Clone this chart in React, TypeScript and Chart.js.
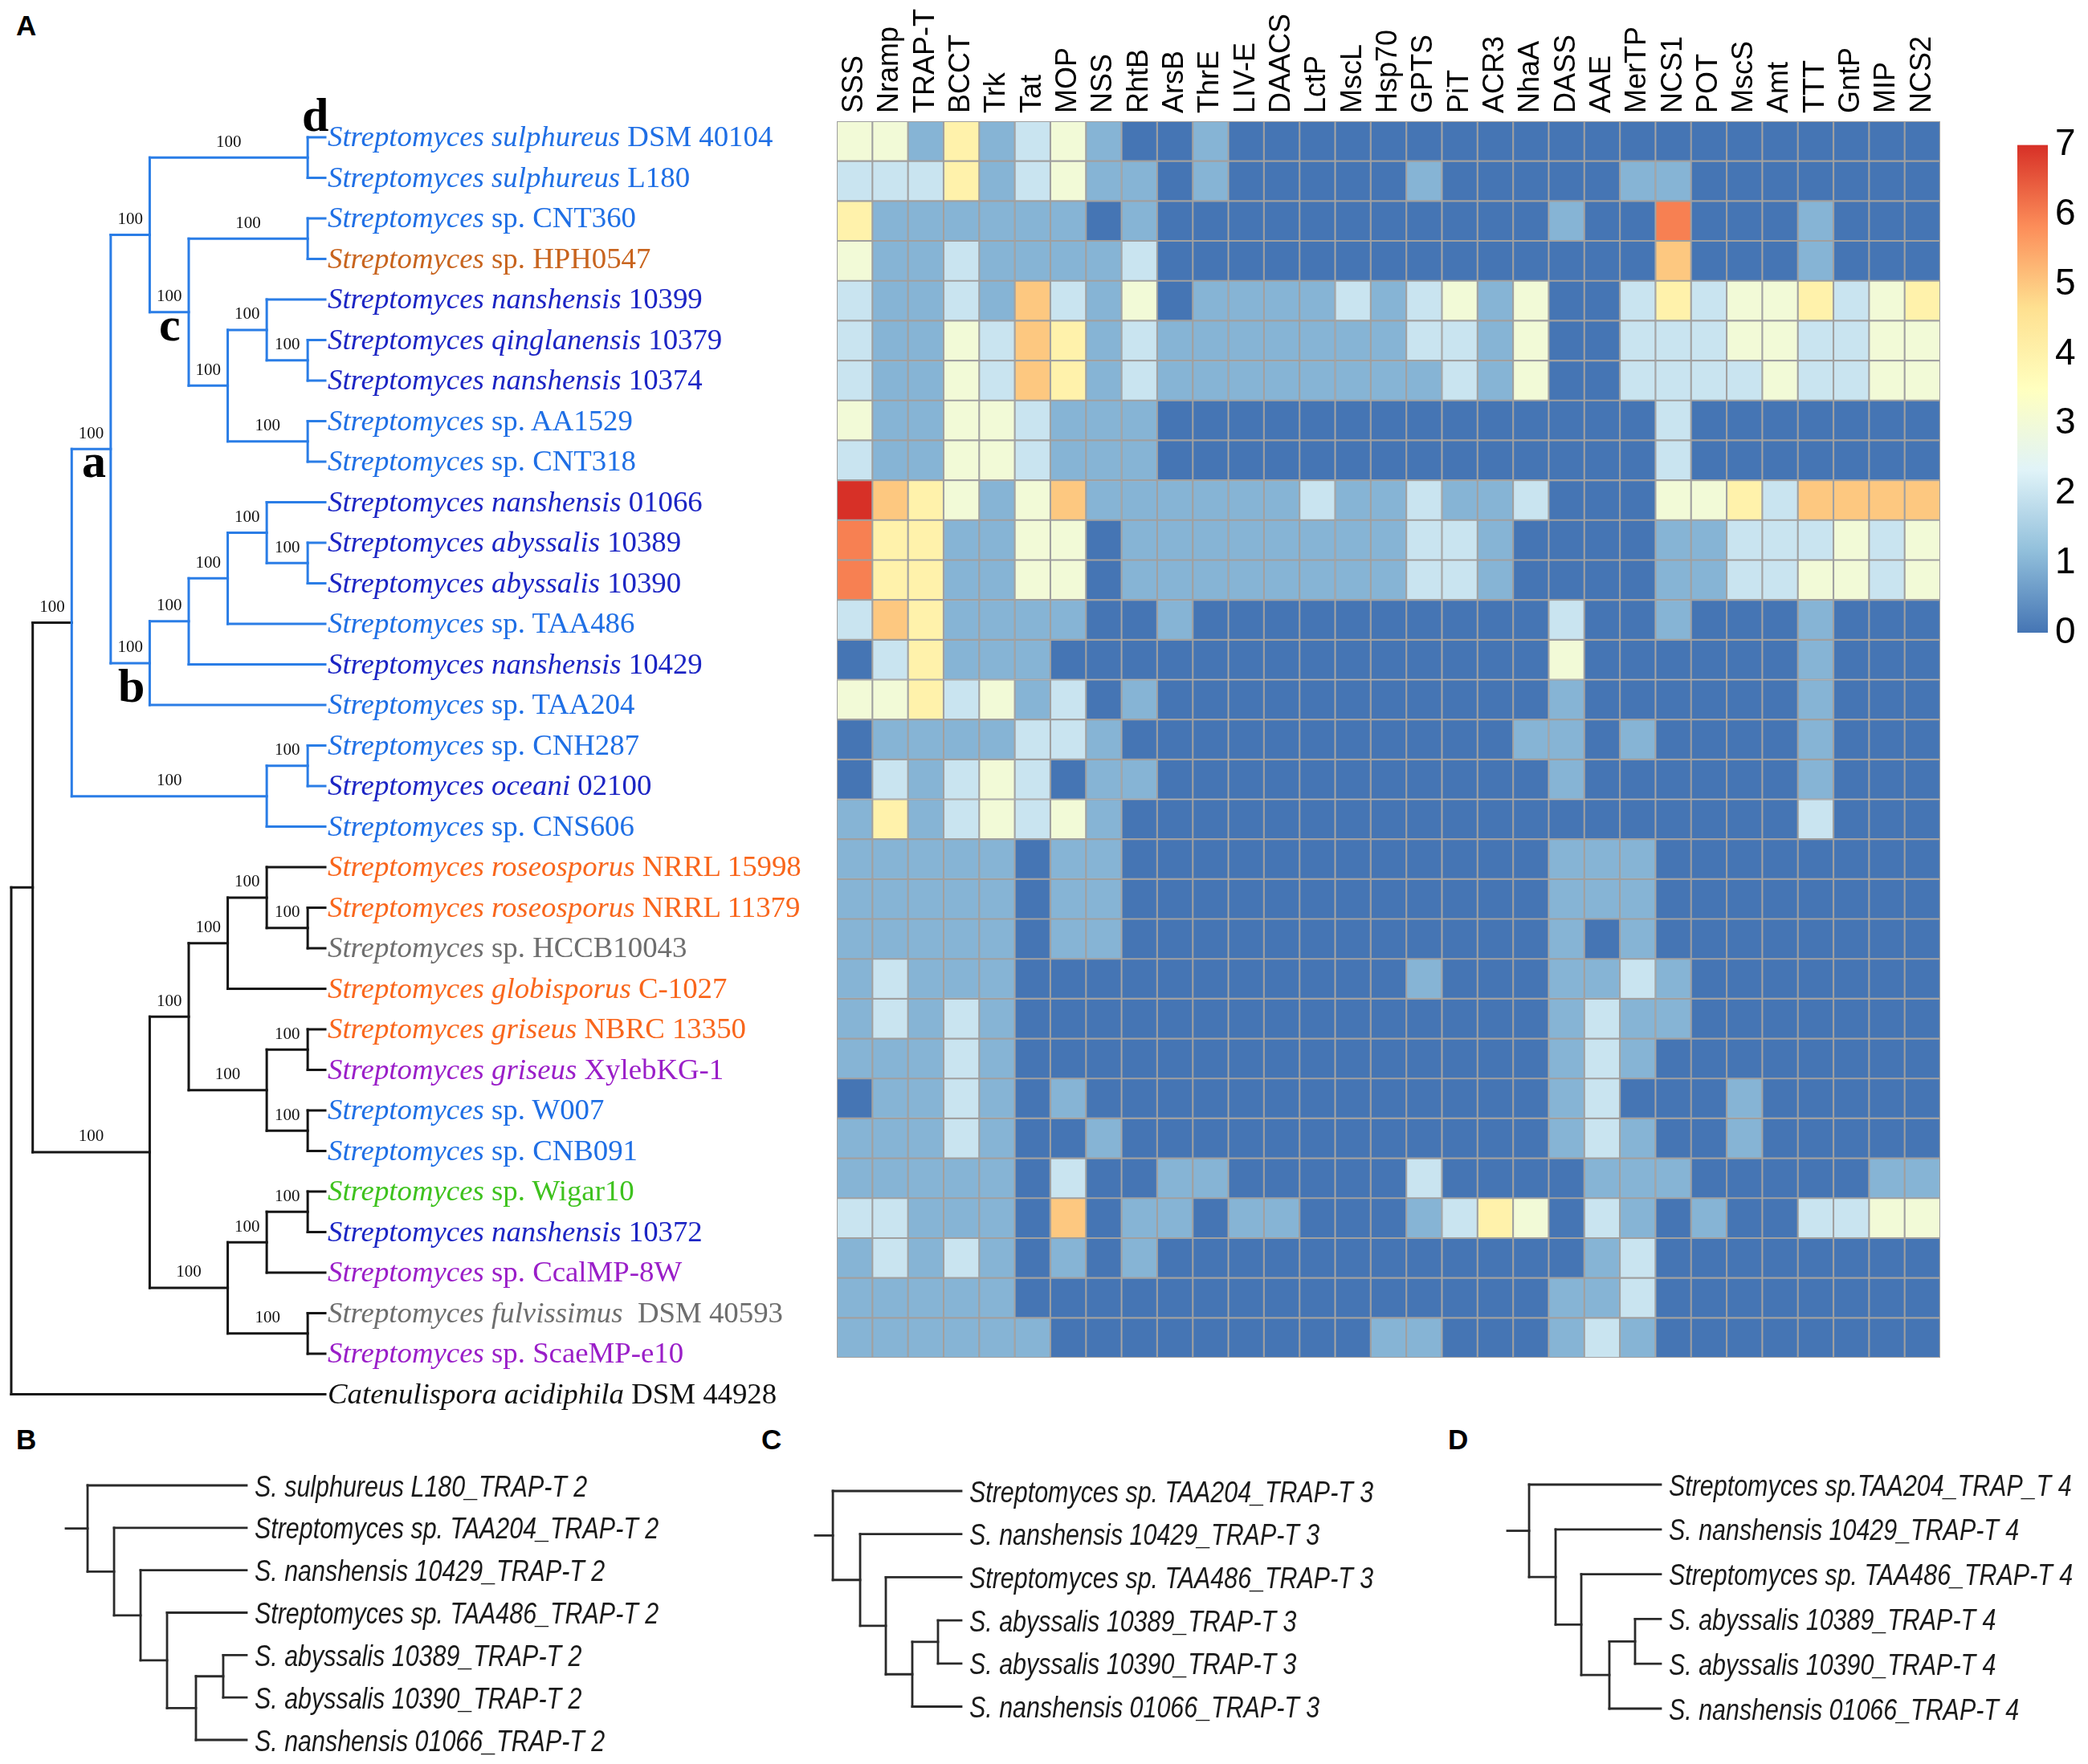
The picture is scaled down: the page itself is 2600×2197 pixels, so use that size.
import React, { useEffect, useRef } from 'react';
import { Chart, registerables } from 'chart.js';

Chart.register(...registerables);

/* ============================ DATA ============================ */

const TRANSPORTERS = [
  'SSS', 'Nramp', 'TRAP-T', 'BCCT', 'Trk', 'Tat', 'MOP', 'NSS', 'RhtB', 'ArsB', 'ThrE',
  'LIV-E', 'DAACS', 'LctP', 'MscL', 'Hsp70', 'GPTS', 'PiT', 'ACR3', 'NhaA', 'DASS', 'AAE',
  'MerTP', 'NCS1', 'POT', 'MscS', 'Amt', 'TTT', 'GntP', 'MIP', 'NCS2',
];

const TAXON_ITALIC = [
  'Streptomyces sulphureus', 'Streptomyces sulphureus', 'Streptomyces', 'Streptomyces',
  'Streptomyces nanshensis', 'Streptomyces qinglanensis', 'Streptomyces nanshensis',
  'Streptomyces', 'Streptomyces', 'Streptomyces nanshensis', 'Streptomyces abyssalis',
  'Streptomyces abyssalis', 'Streptomyces', 'Streptomyces nanshensis', 'Streptomyces',
  'Streptomyces', 'Streptomyces oceani', 'Streptomyces', 'Streptomyces roseosporus',
  'Streptomyces roseosporus', 'Streptomyces', 'Streptomyces globisporus', 'Streptomyces griseus',
  'Streptomyces griseus', 'Streptomyces', 'Streptomyces', 'Streptomyces',
  'Streptomyces nanshensis', 'Streptomyces', 'Streptomyces fulvissimus', 'Streptomyces',
  'Catenulispora acidiphila',
];

const TAXON_STRAIN = [
  'DSM 40104', 'L180', 'sp. CNT360', 'sp. HPH0547', '10399', '10379', '10374', 'sp. AA1529',
  'sp. CNT318', '01066', '10389', '10390', 'sp. TAA486', '10429', 'sp. TAA204', 'sp. CNH287',
  '02100', 'sp. CNS606', 'NRRL 15998', 'NRRL 11379', 'sp. HCCB10043', 'C-1027', 'NBRC 13350',
  'XylebKG-1', 'sp. W007', 'sp. CNB091', 'sp. Wigar10', '10372', 'sp. CcalMP-8W',
  ' DSM 40593', 'sp. ScaeMP-e10', 'DSM 44928',
];

const TAXON_GROUP = [
  'lb', 'lb', 'lb', 'br', 'db', 'db', 'db', 'lb', 'lb', 'db', 'db', 'db', 'lb', 'db', 'lb', 'lb',
  'db', 'lb', 'or', 'or', 'gy', 'or', 'or', 'pu', 'lb', 'lb', 'gr', 'db', 'pu', 'gy', 'pu', 'bk',
];

// rows = taxa 0..30 (same order as the tree), columns = TRANSPORTERS
const COUNTS: number[][] = [
  [3, 3, 1, 4, 1, 2, 3, 1, 0, 0, 1, 0, 0, 0, 0, 0, 0, 0, 0, 0, 0, 0, 0, 0, 0, 0, 0, 0, 0, 0, 0],
  [2, 2, 2, 4, 1, 2, 3, 1, 1, 0, 1, 0, 0, 0, 0, 0, 1, 0, 0, 0, 0, 0, 1, 1, 0, 0, 0, 0, 0, 0, 0],
  [4, 1, 1, 1, 1, 1, 1, 0, 1, 0, 0, 0, 0, 0, 0, 0, 0, 0, 0, 0, 1, 0, 0, 6, 0, 0, 0, 1, 0, 0, 0],
  [3, 1, 1, 2, 1, 1, 1, 1, 2, 0, 0, 0, 0, 0, 0, 0, 0, 0, 0, 0, 0, 0, 0, 5, 0, 0, 0, 1, 0, 0, 0],
  [2, 1, 1, 2, 1, 5, 2, 1, 3, 0, 1, 1, 1, 1, 2, 1, 2, 3, 1, 3, 0, 0, 2, 4, 2, 3, 3, 4, 2, 3, 4],
  [2, 1, 1, 3, 2, 5, 4, 1, 2, 1, 1, 1, 1, 1, 1, 1, 2, 2, 1, 3, 0, 0, 2, 2, 2, 3, 3, 2, 2, 3, 3],
  [2, 1, 1, 3, 2, 5, 4, 1, 2, 1, 1, 1, 1, 1, 1, 1, 1, 2, 1, 3, 0, 0, 2, 2, 2, 2, 3, 2, 2, 3, 3],
  [3, 1, 1, 3, 3, 2, 1, 1, 1, 0, 0, 0, 0, 0, 0, 0, 0, 0, 0, 0, 0, 0, 0, 2, 0, 0, 0, 0, 0, 0, 0],
  [2, 1, 1, 3, 3, 2, 1, 1, 1, 0, 0, 0, 0, 0, 0, 0, 0, 0, 0, 0, 0, 0, 0, 2, 0, 0, 0, 0, 0, 0, 0],
  [7, 5, 4, 3, 1, 3, 5, 1, 1, 1, 1, 1, 1, 2, 1, 1, 2, 1, 1, 2, 0, 0, 0, 3, 3, 4, 2, 5, 5, 5, 5],
  [6, 4, 4, 1, 1, 3, 3, 0, 1, 1, 1, 1, 1, 1, 1, 1, 2, 2, 1, 0, 0, 0, 0, 1, 1, 2, 2, 2, 3, 2, 3],
  [6, 4, 4, 1, 1, 3, 3, 0, 1, 1, 1, 1, 1, 1, 1, 1, 2, 2, 1, 0, 0, 0, 0, 1, 1, 2, 2, 3, 3, 2, 3],
  [2, 5, 4, 1, 1, 1, 1, 0, 0, 1, 0, 0, 0, 0, 0, 0, 0, 0, 0, 0, 2, 0, 0, 1, 0, 0, 0, 1, 0, 0, 0],
  [0, 2, 4, 1, 1, 1, 0, 0, 0, 0, 0, 0, 0, 0, 0, 0, 0, 0, 0, 0, 3, 0, 0, 0, 0, 0, 0, 1, 0, 0, 0],
  [3, 3, 4, 2, 3, 1, 2, 0, 1, 0, 0, 0, 0, 0, 0, 0, 0, 0, 0, 0, 1, 0, 0, 0, 0, 0, 0, 1, 0, 0, 0],
  [0, 1, 1, 1, 1, 2, 2, 1, 0, 0, 0, 0, 0, 0, 0, 0, 0, 0, 0, 1, 1, 0, 1, 0, 0, 0, 0, 1, 0, 0, 0],
  [0, 2, 1, 2, 3, 2, 0, 1, 1, 0, 0, 0, 0, 0, 0, 0, 0, 0, 0, 0, 1, 0, 0, 0, 0, 0, 0, 1, 0, 0, 0],
  [1, 4, 1, 2, 3, 2, 3, 1, 0, 0, 0, 0, 0, 0, 0, 0, 0, 0, 0, 0, 0, 0, 0, 0, 0, 0, 0, 2, 0, 0, 0],
  [1, 1, 1, 1, 1, 0, 1, 1, 0, 0, 0, 0, 0, 0, 0, 0, 0, 0, 0, 0, 1, 1, 1, 0, 0, 0, 0, 0, 0, 0, 0],
  [1, 1, 1, 1, 1, 0, 1, 1, 0, 0, 0, 0, 0, 0, 0, 0, 0, 0, 0, 0, 1, 1, 1, 0, 0, 0, 0, 0, 0, 0, 0],
  [1, 1, 1, 1, 1, 0, 1, 1, 0, 0, 0, 0, 0, 0, 0, 0, 0, 0, 0, 0, 1, 0, 1, 0, 0, 0, 0, 0, 0, 0, 0],
  [1, 2, 1, 1, 1, 0, 0, 0, 0, 0, 0, 0, 0, 0, 0, 0, 1, 0, 0, 0, 1, 1, 2, 1, 0, 0, 0, 0, 0, 0, 0],
  [1, 2, 1, 2, 1, 0, 0, 0, 0, 0, 0, 0, 0, 0, 0, 0, 0, 0, 0, 0, 1, 2, 1, 1, 0, 0, 0, 0, 0, 0, 0],
  [1, 1, 1, 2, 1, 0, 0, 0, 0, 0, 0, 0, 0, 0, 0, 0, 0, 0, 0, 0, 1, 2, 1, 0, 0, 0, 0, 0, 0, 0, 0],
  [0, 1, 1, 2, 1, 0, 1, 0, 0, 0, 0, 0, 0, 0, 0, 0, 0, 0, 0, 0, 1, 2, 0, 0, 0, 1, 0, 0, 0, 0, 0],
  [1, 1, 1, 2, 1, 0, 0, 1, 0, 0, 0, 0, 0, 0, 0, 0, 0, 0, 0, 0, 1, 2, 1, 0, 0, 1, 0, 0, 0, 0, 0],
  [1, 1, 1, 1, 1, 0, 2, 0, 0, 1, 1, 0, 0, 0, 0, 0, 2, 0, 0, 0, 0, 1, 1, 1, 0, 0, 0, 0, 0, 1, 1],
  [2, 2, 1, 1, 1, 0, 5, 0, 1, 1, 0, 1, 1, 0, 0, 0, 1, 2, 4, 3, 0, 2, 1, 0, 1, 0, 0, 2, 2, 3, 3],
  [1, 2, 1, 2, 1, 0, 1, 0, 1, 0, 0, 0, 0, 0, 0, 0, 0, 0, 0, 0, 0, 1, 2, 0, 0, 0, 0, 0, 0, 0, 0],
  [1, 1, 1, 1, 1, 0, 0, 0, 0, 0, 0, 0, 0, 0, 0, 0, 0, 0, 0, 0, 1, 1, 2, 0, 0, 0, 0, 0, 0, 0, 0],
  [1, 1, 1, 1, 1, 1, 0, 0, 0, 0, 0, 0, 0, 0, 0, 1, 1, 0, 0, 0, 1, 2, 1, 0, 0, 0, 0, 0, 0, 0, 0],
];

const LEGEND_MIN = 0;
const LEGEND_MAX = 7;
const PALETTE = ['#4575B4', '#91BFDB', '#E0F3F8', '#FFFFBF', '#FEE090', '#FC8D59', '#D73027'];

// ---- trees: d = node depth, c = children (tip indices), s = support
type TNode = number | { d: number; c: TNode[]; s?: string; k?: string };
const N = (d: number, c: TNode[], s?: string, k?: string): TNode => ({ d, c, s, k });
const BS = '100';

const MAIN_TREE: TNode = N(0, [
  N(0.55, [
    N(1.55, [
      N(2.55, [
        N(3.55, [
          N(7.6, [0, 1], BS),
          N(4.55, [
            N(7.6, [2, 3], BS),
            N(5.55, [
              N(6.55, [4, N(7.6, [5, 6], BS)], BS),
              N(7.6, [7, 8], BS),
            ], BS),
          ], BS),
        ], BS),
        N(3.55, [
          N(4.55, [
            N(5.55, [N(6.55, [9, N(7.6, [10, 11], BS)], BS), 12], BS),
            13,
          ], BS),
          14,
        ], BS),
      ], BS),
      N(6.55, [N(7.6, [15, 16], BS), 17], BS),
    ], BS, 'blue'),
    N(3.55, [
      N(4.55, [
        N(5.55, [N(6.55, [18, N(7.6, [19, 20], BS)], BS), 21], BS),
        N(6.55, [N(7.6, [22, 23], BS), N(7.6, [24, 25], BS)], BS),
      ], BS),
      N(5.55, [
        N(6.55, [N(7.6, [26, 27], BS), 28], BS),
        N(7.6, [29, 30], BS),
      ], BS),
    ], BS),
  ]),
  31,
]);
const MAIN_TIP_DEPTH = 8.05;

const B_TREE: TNode = N(0.82, [0, N(1.82, [1, N(2.82, [2, N(3.82, [3, N(4.91, [N(5.94, [4, 5]), 6])])])])]);
const B_TIP_DEPTH = 6.82;
const C_TREE: TNode = N(0.67, [0, N(1.7, [1, N(2.67, [2, N(3.67, [N(4.64, [3, 4]), 5])])])]);
const C_TIP_DEPTH = 5.52;
const D_TREE: TNode = N(0.82, [0, N(1.82, [1, N(2.79, [2, N(3.85, [N(4.82, [3, 4]), 5])])])]);
const D_TIP_DEPTH = 5.79;

const B_LABELS = [
  'S. sulphureus L180_TRAP-T 2', 'Streptomyces sp. TAA204_TRAP-T 2', 'S. nanshensis 10429_TRAP-T 2',
  'Streptomyces sp. TAA486_TRAP-T 2', 'S. abyssalis 10389_TRAP-T 2', 'S. abyssalis 10390_TRAP-T 2',
  'S. nanshensis 01066_TRAP-T 2',
];
const C_LABELS = [
  'Streptomyces sp. TAA204_TRAP-T 3', 'S. nanshensis 10429_TRAP-T 3', 'Streptomyces sp. TAA486_TRAP-T 3',
  'S. abyssalis 10389_TRAP-T 3', 'S. abyssalis 10390_TRAP-T 3', 'S. nanshensis 01066_TRAP-T 3',
];
const D_LABELS = [
  'Streptomyces sp.TAA204_TRAP_T 4', 'S. nanshensis 10429_TRAP-T 4', 'Streptomyces sp. TAA486_TRAP-T 4',
  'S. abyssalis 10389_TRAP-T 4', 'S. abyssalis 10390_TRAP-T 4', 'S. nanshensis 01066_TRAP-T 4',
];

/* ============================ STYLE ============================ */

const GROUP_COLORS: Record<string, string> = {
  lb: '#1f6fe5', db: '#1c25c4', br: '#c8641e', or: '#f9661c',
  gy: '#6e6e6e', pu: '#9a1ec8', gr: '#3ec21e', bk: '#111111',
};
const TREE_BLUE = '#2a7de6';
const TREE_BLACK = '#161616';
const SMALL_TREE = '#2a2a2a';
const GRID_GRAY = '#a0a0a0';
const SERIF = "'Liberation Serif', 'Times New Roman', serif";
const SANS = "'Liberation Sans', Arial, sans-serif";
const K_SERIF = 0.8375;
const K_SANS = 0.8465;
const COL_FONT = 36;

function hexToRgb(h: string) {
  const n = parseInt(h.slice(1), 16);
  return [(n >> 16) & 255, (n >> 8) & 255, n & 255];
}
function valueColor(v: number) {
  const t = ((v - LEGEND_MIN) / (LEGEND_MAX - LEGEND_MIN)) * (PALETTE.length - 1);
  const i = Math.max(0, Math.min(PALETTE.length - 2, Math.floor(t)));
  const f = Math.max(0, Math.min(1, t - i));
  const a = hexToRgb(PALETTE[i]);
  const b = hexToRgb(PALETTE[i + 1]);
  const c = a.map((x, j) => Math.round(x + (b[j] - x) * f));
  return `rgb(${c[0]},${c[1]},${c[2]})`;
}

/* ============================ HELPERS ============================ */

function ChartCanvas({ left, top, width, height, make }: {
  left: number; top: number; width: number; height: number; make: () => any;
}) {
  const ref = useRef<HTMLCanvasElement>(null);
  useEffect(() => {
    if (!ref.current) return;
    const chart = new Chart(ref.current, make());
    return () => chart.destroy();
  }, []);
  return (
    <canvas
      ref={ref}
      width={width}
      height={height}
      style={{ position: 'absolute', left, top, width, height, display: 'block' }}
    />
  );
}

function TextAt({ x, base, size, family, k, color = '#000', weight = 400, italic = false, center = false, sx = 1, children }: {
  x: number; base: number; size: number; family: string; k: number; color?: string;
  weight?: number; italic?: boolean; center?: boolean; sx?: number; children: React.ReactNode;
}) {
  const tf = [center ? 'translateX(-50%)' : '', sx !== 1 ? `scaleX(${sx})` : ''].join(' ').trim();
  return (
    <div
      style={{
        position: 'absolute', left: x, top: base - k * size, fontSize: size, lineHeight: `${size}px`,
        fontFamily: family, color, fontWeight: weight, fontStyle: italic ? 'italic' : 'normal',
        whiteSpace: 'pre', transform: tf || undefined, transformOrigin: 'left center',
      }}
    >
      {children}
    </div>
  );
}

interface Seg { x1: number; y1: number; x2: number; y2: number; c: string }
interface Sup { d0: number; d1: number; y: number; t: string }

function buildTree(root: TNode, tipDepth: number, stub: number | null, base: string, blue: string) {
  const segs: Seg[] = [];
  const sups: Sup[] = [];
  const walk = (n: TNode, pd: number | null, pc: string, inh: string): number => {
    if (typeof n === 'number') {
      if (pd !== null) segs.push({ x1: pd, y1: n, x2: tipDepth, y2: n, c: pc });
      return n;
    }
    const col = n.k === 'blue' ? blue : inh;
    const ys = n.c.map((ch) => walk(ch, n.d, col, col));
    const y = (ys[0] + ys[ys.length - 1]) / 2;
    segs.push({ x1: n.d, y1: ys[0], x2: n.d, y2: ys[ys.length - 1], c: col });
    if (pd !== null) {
      segs.push({ x1: pd, y1: y, x2: n.d, y2: y, c: pc });
      if (n.s) sups.push({ d0: pd, d1: n.d, y, t: n.s });
    }
    return y;
  };
  walk(root, stub, base, base);
  return { segs, sups };
}

interface Box { left: number; top: number; width: number; height: number }
interface Area { x0: number; x1: number; y0: number; y1: number }

function mapper(area: Area, tipDepth: number, nTips: number) {
  return {
    px: (d: number) => area.x0 + (d / tipDepth) * (area.x1 - area.x0),
    py: (r: number) => area.y0 + (r / (nTips - 1)) * (area.y1 - area.y0),
  };
}

function treeConfig(segs: Seg[], tipDepth: number, nTips: number, box: Box, area: Area, lw: number) {
  return {
    type: 'scatter',
    data: {
      datasets: segs.map((s) => ({
        data: [{ x: s.x1, y: s.y1 }, { x: s.x2, y: s.y2 }],
        showLine: true,
        borderColor: s.c,
        backgroundColor: s.c,
        borderWidth: lw,
        pointRadius: 0,
        borderCapStyle: 'square',
        clip: false,
      })),
    },
    options: {
      responsive: false,
      animation: false,
      events: [],
      layout: {
        padding: {
          left: area.x0 - box.left,
          right: box.left + box.width - area.x1,
          top: area.y0 - box.top,
          bottom: box.top + box.height - area.y1,
        },
      },
      plugins: { legend: { display: false }, tooltip: { enabled: false } },
      scales: {
        x: { type: 'linear', display: false, min: 0, max: tipDepth },
        y: { type: 'linear', display: false, min: 0, max: nTips - 1, reverse: true },
      },
    },
  };
}

/* ============================ PANELS ============================ */

const MAIN_BOX: Box = { left: 0, top: 0, width: 1000, height: 1760 };
const MAIN_AREA: Area = { x0: 14, x1: 405, y0: 171, y1: 1736.5 };

function MainTree() {
  const nTips = TAXON_ITALIC.length;
  const { segs, sups } = buildTree(MAIN_TREE, MAIN_TIP_DEPTH, null, TREE_BLACK, TREE_BLUE);
  const { px, py } = mapper(MAIN_AREA, MAIN_TIP_DEPTH, nTips);
  const letters = [
    { t: 'd', x: 376, b: 163 },
    { t: 'c', x: 198, b: 424 },
    { t: 'a', x: 102, b: 594 },
    { t: 'b', x: 147, b: 874 },
  ];
  return (
    <>
      <ChartCanvas {...MAIN_BOX} make={() => treeConfig(segs, MAIN_TIP_DEPTH, nTips, MAIN_BOX, MAIN_AREA, 3)} />
      {TAXON_ITALIC.map((it, i) => (
        <TextAt key={'t' + i} x={px(MAIN_TIP_DEPTH) + 3} base={py(i) + 12} size={36.8} family={SERIF}
          k={K_SERIF} color={GROUP_COLORS[TAXON_GROUP[i]]}>
          <i>{it}</i>{' ' + TAXON_STRAIN[i]}
        </TextAt>
      ))}
      {sups.map((s, i) => (
        <TextAt key={'s' + i} x={(px(s.d0) + px(s.d1)) / 2} base={py(s.y) - 13} size={21} family={SERIF}
          k={K_SERIF} color="#111" center>
          {s.t}
        </TextAt>
      ))}
      {letters.map((l) => (
        <TextAt key={l.t} x={l.x} base={l.b} size={60} family={SERIF} k={K_SERIF} weight={700} color="#000">
          {l.t}
        </TextAt>
      ))}
    </>
  );
}

function SmallTree({ tree, tipDepth, labels, box, area }: {
  tree: TNode; tipDepth: number; labels: string[]; box: Box; area: Area;
}) {
  const nTips = labels.length;
  const { segs } = buildTree(tree, tipDepth, 0, SMALL_TREE, SMALL_TREE);
  const { px, py } = mapper(area, tipDepth, nTips);
  return (
    <>
      <ChartCanvas {...box} make={() => treeConfig(segs, tipDepth, nTips, box, area, 2.8)} />
      {labels.map((t, i) => (
        <TextAt key={i} x={px(tipDepth) + 10} base={py(i) + 14} size={36} family={SANS} k={K_SANS}
          italic color="#1a1a1a" sx={0.845}>
          {t}
        </TextAt>
      ))}
    </>
  );
}

const HEAT_BOX: Box = { left: 1042, top: 0, width: 1374, height: 1691 };

function heatmapConfig() {
  const datasets = COUNTS.map((row, i) => ({
    label: TAXON_ITALIC[i] + ' ' + TAXON_STRAIN[i],
    data: row.map(() => 1),
    backgroundColor: row.map((v) => valueColor(v)),
    borderColor: GRID_GRAY,
    borderWidth: 1.4,
    borderSkipped: false,
    barPercentage: 1,
    categoryPercentage: 1,
  }));
  return {
    type: 'bar',
    data: { labels: TRANSPORTERS, datasets },
    options: {
      responsive: false,
      animation: false,
      events: [],
      layout: { padding: 0 },
      plugins: { legend: { display: false }, tooltip: { enabled: false } },
      scales: {
        x: {
          position: 'top',
          stacked: true,
          grid: { display: false, drawTicks: false },
          border: { display: false },
          ticks: {
            autoSkip: false, minRotation: 90, maxRotation: 90, padding: 10, color: '#000',
            // top-axis rotated labels are drawn one line-height to the left; shift them back
            labelOffset: COL_FONT * 1.2,
            font: { family: SANS, size: COL_FONT },
          },
          afterFit: (s: any) => { s.height = 151; s.paddingLeft = 0; s.paddingRight = 0; },
        },
        y: { display: false, stacked: true, min: 0, max: COUNTS.length, reverse: true },
      },
    },
  };
}

const BAR_BOX: Box = { left: 2512, top: 144, width: 88, height: 686 };

function colorbarConfig() {
  return {
    type: 'bar',
    data: {
      labels: [''],
      datasets: [{
        data: [[LEGEND_MIN, LEGEND_MAX]],
        backgroundColor: (ctx: any) => {
          const chart = ctx.chart;
          const a = chart.chartArea;
          if (!a) return PALETTE[0];
          const g = chart.ctx.createLinearGradient(0, a.bottom, 0, a.top);
          PALETTE.forEach((c, i) => g.addColorStop(i / (PALETTE.length - 1), c));
          return g;
        },
        borderWidth: 0,
        barPercentage: 1,
        categoryPercentage: 1,
      }],
    },
    options: {
      responsive: false,
      animation: false,
      events: [],
      layout: { padding: { top: 28, bottom: 42, left: 0, right: 0 } },
      plugins: { legend: { display: false }, tooltip: { enabled: false } },
      scales: {
        x: { display: false },
        y: {
          position: 'right', min: LEGEND_MIN, max: LEGEND_MAX,
          grid: { display: false, drawTicks: false }, border: { display: false },
          ticks: { stepSize: 1, padding: 9, color: '#000', font: { family: SANS, size: 46 } },
          afterFit: (s: any) => { s.width = 50; },
        },
      },
    },
  };
}

export default function App() {
  return (
    <div style={{ position: 'absolute', left: 0, top: 0, width: 2600, height: 2197, background: '#fff', overflow: 'hidden' }}>
      <TextAt x={20} base={44} size={35} family={SANS} k={K_SANS} weight={700}>A</TextAt>
      <TextAt x={20} base={1805} size={35} family={SANS} k={K_SANS} weight={700}>B</TextAt>
      <TextAt x={948} base={1805} size={35} family={SANS} k={K_SANS} weight={700}>C</TextAt>
      <TextAt x={1803} base={1805} size={35} family={SANS} k={K_SANS} weight={700}>D</TextAt>

      <MainTree />
      <ChartCanvas {...HEAT_BOX} make={heatmapConfig} />
      <ChartCanvas {...BAR_BOX} make={colorbarConfig} />

      <SmallTree tree={B_TREE} tipDepth={B_TIP_DEPTH} labels={B_LABELS}
        box={{ left: 60, top: 1830, width: 260, height: 350 }}
        area={{ x0: 82, x1: 307, y0: 1850, y1: 2167 }} />
      <SmallTree tree={C_TREE} tipDepth={C_TIP_DEPTH} labels={C_LABELS}
        box={{ left: 990, top: 1835, width: 220, height: 310 }}
        area={{ x0: 1015, x1: 1197, y0: 1857, y1: 2125.5 }} />
      <SmallTree tree={D_TREE} tipDepth={D_TIP_DEPTH} labels={D_LABELS}
        box={{ left: 1850, top: 1830, width: 230, height: 320 }}
        area={{ x0: 1877, x1: 2068, y0: 1849, y1: 2128 }} />
    </div>
  );
}
